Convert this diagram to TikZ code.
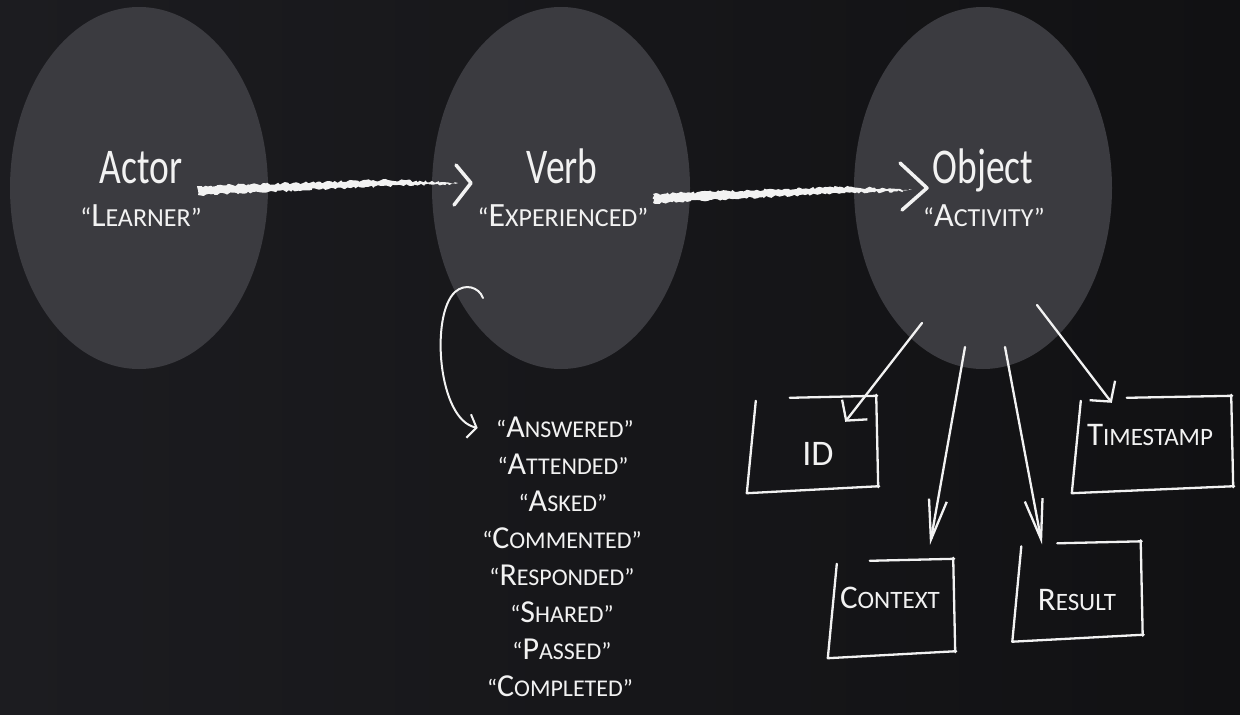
\documentclass[tikz,border=0pt]{standalone}
\usepackage{fontspec}
\setmainfont{Carlito}
\newfontfamily\titlefont[FakeStretch=0.75]{Carlito}
\usetikzlibrary{arrows.meta,decorations.pathmorphing,calc,shapes.geometric}
\definecolor{bgl}{HTML}{1C1C20}
\definecolor{bgm}{HTML}{232327}
\definecolor{bgr}{HTML}{111113}
\definecolor{disc}{HTML}{3B3B40}
\definecolor{chalk}{HTML}{F2F2F2}
\newcommand{\smcq}[4]{{\fontsize{#2}{#2}\selectfont “}{\fontsize{#1}{#1}\selectfont #3}{\fontsize{#2}{#2}\selectfont #4”}}
\newcommand{\smcw}[4]{{\fontsize{#1}{#1}\selectfont #3}{\fontsize{#2}{#2}\selectfont #4}}
\tikzset{
  disc/.style={ellipse, fill=disc, draw=none, inner sep=0pt, minimum width=258pt, minimum height=362pt},
  title/.style={anchor=base, text=chalk, font=\titlefont\fontsize{50}{50}\selectfont},
  sub/.style={anchor=base, text=chalk},
  chalkbody/.style={fill=chalk, decorate, decoration={random steps, segment length=2.5pt, amplitude=1.3pt}},
  chalkhead/.style={draw=chalk, line width=3.5pt, line cap=round, line join=round},
  thinchalk/.style={draw=chalk, line width=2pt, line cap=round},
  objarrow/.style={draw=chalk, line width=2.3pt, line cap=round},
  diaghead/.style={-{Straight Barb[length=14pt,width=32pt]}},
  verthead/.style={-{Straight Barb[length=40pt,width=18pt]}},
  boxn/.style={draw=none, inner sep=0pt},
  boxline/.style={draw=chalk, line width=2.3pt, line cap=round, line join=round},
  boxt/.style={anchor=base, text=chalk},
}
\newcommand{\handbox}[2]{%
  \draw[boxline] ($(#1.north west)+(#2,1)$) -- ($(#1.north east)+(0,-1)$)
    ($(#1.north east)+(-1,-2)$) -- ($(#1.south east)+(1,-6)$)
    ($(#1.south east)+(2,-7)$) -- ($(#1.south west)+(0,0)$) -- ($(#1.north west)+(9,4)$);}
\begin{document}
\begin{tikzpicture}[x=1pt,y=-1pt]
\useasboundingbox (0,0) rectangle (1240,715);
\shade[left color=bgl, middle color=bgm, right color=bgr] (0,0) rectangle (1240,715);

% discs
\node[disc] (actor) at (139,188) {};
\node[disc] (verb) at (561,188) {};
\node[disc] (obj) at (983,188) {};

% titles
\node[title] (actort) at (141,183) {Actor};
\node[sub] (actors) at (141,226) {\smcq{34}{26}{L}{EARNER}};
\node[title] (verbt) at (562,183) {Verb};
\node[sub] (verbs) at (563,226) {\smcq{34}{26}{E}{XPERIENCED}};
\node[title] (objt) at (983,183) {Object};
\node[sub] (objs) at (984,226) {\smcq{34}{26}{A}{CTIVITY}};

% chalk arrow actor -> verb
\coordinate (a1s) at ($(actor.center)+(59,2)$);
\coordinate (a1e) at ($(verb.center)+(-103,-5)$);
\coordinate (a1t) at ($(verb.center)+(-90,-5)$);
\fill[chalkbody] ($(a1s)+(0,-4)$) -- ($(a1e)+(-70,-3)$) -- ($(a1e)+(-15,-1)$) -- (a1e)
  -- ($(a1e)+(-15,1.5)$) -- ($(a1e)+(-70,3)$) -- ($(a1s)+(0,5)$) -- cycle;
\draw[chalkhead] ($(a1t)+(-15,-18)$) -- (a1t) -- ($(a1t)+(-17,22)$);

% chalk arrow verb -> object
\coordinate (a2s) at ($(verb.center)+(92,10)$);
\coordinate (a2e) at ($(obj.center)+(-71,2)$);
\coordinate (a2t) at ($(obj.center)+(-56,0)$);
\fill[chalkbody] ($(a2s)+(0,-4)$) -- ($(a2e)+(-70,-3)$) -- ($(a2e)+(-15,-1)$) -- (a2e)
  -- ($(a2e)+(-15,1.5)$) -- ($(a2e)+(-70,3)$) -- ($(a2s)+(0,5)$) -- cycle;
\draw[chalkhead] ($(a2t)+(-27,-25)$) -- (a2t) -- ($(a2t)+(-25,22)$);

% verb list
\node[sub] (v1) at (565,437) {\smcq{32}{24}{A}{NSWERED}};
\node[sub] (v2) at (563,474) {\smcq{32}{24}{A}{TTENDED}};
\node[sub] (v3) at (563,511) {\smcq{32}{24}{A}{SKED}};
\node[sub] (v4) at (562,548) {\smcq{32}{24}{C}{OMMENTED}};
\node[sub] (v5) at (562,585) {\smcq{32}{24}{R}{ESPONDED}};
\node[sub] (v6) at (562,622) {\smcq{32}{24}{S}{HARED}};
\node[sub] (v7) at (562,659) {\smcq{32}{24}{P}{ASSED}};
\node[sub] (v8) at (560,696) {\smcq{32}{24}{C}{OMPLETED}};

% curved arrow
\coordinate (cs) at ($(verb.center)+(-78,110)$);
\coordinate (ce) at ($(v1.west)+(-15,1)$);
\draw[thinchalk, -{Straight Barb[length=8pt,width=24pt]}] (cs) .. controls (479,287) and (465,283) .. (455,292)
  .. controls (430,315) and (438,420) .. (ce);

% boxes
\node[boxn, minimum width=130pt, minimum height=96pt] (idb) at (812,445) {};
\node[boxn, minimum width=160pt, minimum height=96pt] (tsb) at (1152,445) {};
\node[boxn, minimum width=126pt, minimum height=98pt] (ctb) at (891,609) {};
\node[boxn, minimum width=129pt, minimum height=99pt] (rsb) at (1077,592) {};
\handbox{idb}{43}
\handbox{tsb}{55}
\handbox{ctb}{42}
\handbox{rsb}{45}
\node[boxt] (idt) at (818,465) {\fontsize{36}{36}\selectfont ID};
\node[boxt] (tst) at (1150,445) {\smcw{33}{25}{T}{IMESTAMP}};
\node[boxt] (ctt) at (890,608) {\smcw{33}{25}{C}{ONTEXT}};
\node[boxt] (rst) at (1077,610) {\smcw{33}{25}{R}{ESULT}};

% object arrows
\coordinate (o1) at ($(obj.center)+(-61,135)$);
\coordinate (o2) at ($(obj.center)+(-18,159)$);
\coordinate (o3) at ($(obj.center)+(22,159)$);
\coordinate (o4) at ($(obj.center)+(54,117)$);
\coordinate (t1) at ($(idb.north east)+(-32,25)$);
\coordinate (t2) at ($(ctb.north)+(39,-15)$);
\coordinate (t3) at ($(rsb.north)+(-35,2)$);
\coordinate (t4) at ($(tsb.north west)+(40,6)$);
\draw[objarrow, diaghead] (o1) -- (t1);
\draw[objarrow, verthead] (o2) -- (t2);
\draw[objarrow, verthead] (o3) -- (t3);
\draw[objarrow, diaghead] (o4) -- (t4);
\end{tikzpicture}
\end{document}
